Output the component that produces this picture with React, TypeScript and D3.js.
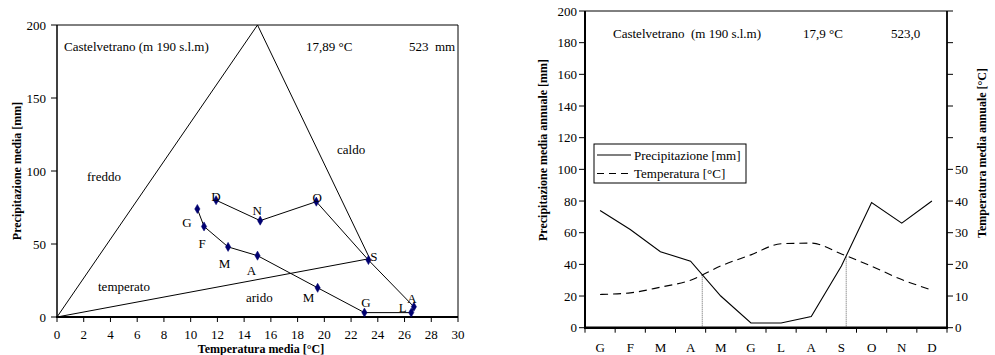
import React from "react";
import * as d3 from "d3";

const months = ["G", "F", "M", "A", "M", "G", "L", "A", "S", "O", "N", "D"];
const temperature = [10.5, 11.0, 12.8, 15.0, 19.5, 23.0, 26.5, 26.7, 23.3, 19.4, 15.2, 11.9];
const precipitation = [74, 62, 48, 42, 20, 3, 3, 7, 39, 79, 66, 80];
const triangle: [number, number][] = [[0, 0], [15, 200], [23.4, 40]];
const leftXTicks = d3.range(0, 31, 2);
const leftYTicks = [0, 50, 100, 150, 200];
const rightPTicks = d3.range(0, 201, 20);
const rightTTicks = d3.range(0, 101, 10);
const rightTLabels = [0, 10, 20, 30, 40, 50];
const labelOffsets: [number, number][] = [
  [-10.5, 13], [-2, 16.5], [-3.5, 17], [-6, 15], [-9, 10], [1.5, -10],
  [-8.5, -5.5], [-2, -8], [5.5, -4], [1, -4], [-3, -10], [0, -4],
];

const FONT = "'Liberation Serif', 'Times New Roman', serif";

export default function App() {
  // Left chart scales (Peguy climogram)
  const xL = d3.scaleLinear().domain([0, 30]).range([57, 458]);
  const yL = d3.scaleLinear().domain([0, 200]).range([317, 25]);
  // Right chart scales (Bagnouls-Gaussen)
  const xR = d3.scaleBand<number>().domain(d3.range(12)).range([585, 947]).padding(0);
  const yP = d3.scaleLinear().domain([0, 200]).range([327.7, 11]);
  const yT = d3.scaleLinear().domain([0, 100]).range([327.7, 11]);
  const cx = (i: number) => (xR(i) as number) + xR.bandwidth() / 2;

  const pts = temperature.map((t, i) => [t, precipitation[i]] as [number, number]);
  const dataLine = d3.line<[number, number]>().x((d) => xL(d[0])).y((d) => yL(d[1]));
  const triPath = dataLine([...triangle, triangle[0]]) || "";
  const climPath = dataLine(pts) || "";

  const pLine = d3.line<number>().x((_, i) => cx(i)).y((d) => yP(d))(precipitation) || "";
  const tLine =
    d3.line<number>().x((_, i) => cx(i)).y((d) => yT(d)).curve(d3.curveMonotoneX)(temperature) || "";

  // intersections where P = 2T
  const crossings: { x: number; y: number }[] = [];
  for (let i = 0; i < 11; i++) {
    const d0 = precipitation[i] - 2 * temperature[i];
    const d1 = precipitation[i + 1] - 2 * temperature[i + 1];
    if (d0 * d1 < 0) {
      const f = d0 / (d0 - d1);
      const p = precipitation[i] + f * (precipitation[i + 1] - precipitation[i]);
      crossings.push({ x: cx(i) + f * (cx(i + 1) - cx(i)), y: yP(p) });
    }
  }

  const diamond = d3.symbol().type(d3.symbolDiamond).size(24)() || "";

  return (
    <svg
      width={995}
      height={355}
      style={{ position: "absolute", left: 0, top: 0, background: "#fff" }}
      fontFamily={FONT}
    >
      <rect x={0} y={0} width={995} height={355} fill="#fff" />
      {/* ================= LEFT CHART ================= */}
      <g>
        <line x1={xL(0)} x2={xL(30)} y1={yL(200)} y2={yL(200)} stroke="#000" strokeWidth={1} />
        <line x1={xL(30)} x2={xL(30)} y1={yL(200)} y2={yL(0)} stroke="#000" strokeWidth={1} />
        <path d={triPath} fill="none" stroke="#000" strokeWidth={1} />
        <line x1={xL(0)} x2={xL(0)} y1={yL(200)} y2={yL(0)} stroke="#000" strokeWidth={1.5} />
        <line x1={xL(0) - 1} x2={xL(30)} y1={yL(0)} y2={yL(0)} stroke="#000" strokeWidth={2} />
        {leftYTicks.map((t) => (
          <g key={"ly" + t}>
            <line x1={xL(0) - 6} x2={xL(0)} y1={yL(t)} y2={yL(t)} stroke="#000" />
            <text x={46} y={yL(t)} dy="0.35em" textAnchor="end" fontSize={13}>
              {t}
            </text>
          </g>
        ))}
        {leftXTicks.map((t) => (
          <g key={"lx" + t}>
            <line x1={xL(t)} x2={xL(t)} y1={yL(0)} y2={yL(0) + 5} stroke="#000" />
            <text x={xL(t)} y={339} textAnchor="middle" fontSize={13}>
              {t}
            </text>
          </g>
        ))}
        <text
          transform={`translate(17,171) rotate(-90)`}
          textAnchor="middle"
          dy="0.35em"
          fontSize={12}
          fontWeight="bold"
        >
          Precipitazione media [mm]
        </text>
        <text x={261} y={353} textAnchor="middle" fontSize={12} fontWeight="bold">
          Temperatura media [°C]
        </text>
        <text x={64} y={51} fontSize={13}>Castelvetrano (m 190 s.l.m)</text>
        <text x={306} y={51} fontSize={13}>17,89 °C</text>
        <text x={409} y={51} fontSize={13} style={{ whiteSpace: "pre" }}>
          523  mm
        </text>
        <text x={87} y={181} fontSize={13}>freddo</text>
        <text x={337} y={154} fontSize={13}>caldo</text>
        <text x={98} y={291} fontSize={13}>temperato</text>
        <text x={246} y={302} fontSize={13}>arido</text>
        <path d={climPath} fill="none" stroke="#000" strokeWidth={1} />
        {pts.map((p, i) => (
          <path
            key={"m" + i}
            d={diamond}
            transform={`translate(${xL(p[0])},${yL(p[1])})`}
            fill="#000070"
            stroke="#000070"
            strokeWidth={0.5}
          />
        ))}
        {pts.map((p, i) => (
          <text
            key={"ml" + i}
            x={xL(p[0]) + labelOffsets[i][0]}
            y={yL(p[1]) + labelOffsets[i][1]}
            dy="0.35em"
            textAnchor="middle"
            fontSize={13}
          >
            {months[i]}
          </text>
        ))}
      </g>

      {/* ================= RIGHT CHART ================= */}
      <g>
        <line x1={585} x2={947} y1={yP(200)} y2={yP(200)} stroke="#000" strokeWidth={1} />
        {crossings.map((c, i) => (
          <line
            key={"c" + i}
            x1={c.x}
            x2={c.x}
            y1={yP(0)}
            y2={c.y}
            stroke="#666"
            strokeWidth={1}
            strokeDasharray="1,1"
          />
        ))}
        <path d={pLine} fill="none" stroke="#000" strokeWidth={1.1} />
        <path d={tLine} fill="none" stroke="#000" strokeWidth={1.1} strokeDasharray="8,5" />
        <line x1={585} x2={585} y1={yP(200)} y2={yP(0)} stroke="#000" strokeWidth={2} />
        <line x1={947} x2={947} y1={yT(100)} y2={yT(0)} stroke="#000" strokeWidth={1.8} />
        <line x1={584} x2={948} y1={yP(0)} y2={yP(0)} stroke="#000" strokeWidth={2.5} />
        {rightPTicks.map((t) => (
          <g key={"rp" + t}>
            <line x1={579} x2={585} y1={yP(t)} y2={yP(t)} stroke="#000" />
            <text x={577} y={yP(t)} dy="0.35em" textAnchor="end" fontSize={13}>
              {t}
            </text>
          </g>
        ))}
        {rightTTicks.map((t) => (
          <line key={"rt" + t} x1={947} x2={953} y1={yT(t)} y2={yT(t)} stroke="#000" />
        ))}
        {rightTLabels.map((t) => (
          <text key={"rtl" + t} x={955} y={yT(t)} dy="0.35em" fontSize={13}>
            {t}
          </text>
        ))}
        {d3.range(13).map((i) => {
          const x = i < 12 ? (xR(i) as number) : 947;
          return <line key={"bt" + i} x1={x} x2={x} y1={yP(0)} y2={yP(0) + 5} stroke="#000" />;
        })}
        {months.map((m, i) => (
          <text key={"mo" + i} x={cx(i)} y={347} dy="0.35em" textAnchor="middle" fontSize={13}>
            {m}
          </text>
        ))}
        <text
          transform={`translate(543,150) rotate(-90)`}
          textAnchor="middle"
          dy="0.35em"
          fontSize={12}
          fontWeight="bold"
        >
          Precipitazione media annuale [mm]
        </text>
        <text
          transform={`translate(982,153) rotate(-90)`}
          textAnchor="middle"
          dy="0.35em"
          fontSize={12}
          fontWeight="bold"
        >
          Temperatura media annuale [°C]
        </text>
        <text x={613} y={37.5} fontSize={13} style={{ whiteSpace: "pre" }}>
          Castelvetrano  (m 190 s.l.m)
        </text>
        <text x={803} y={37.5} fontSize={13}>17,9 °C</text>
        <text x={891} y={37.5} fontSize={13}>523,0</text>
        <rect x={594} y={144} width={152} height={39} fill="#fff" stroke="#000" strokeWidth={1} />
        <line x1={597} x2={631} y1={155} y2={155} stroke="#000" strokeWidth={1.1} />
        <text x={634} y={155} dy="0.35em" fontSize={13}>Precipitazione [mm]</text>
        <line x1={597} x2={631} y1={173.5} y2={173.5} stroke="#000" strokeWidth={1.1} strokeDasharray="7,5" />
        <text x={634} y={173.5} dy="0.35em" fontSize={13}>Temperatura [°C]</text>
      </g>
    </svg>
  );
}
